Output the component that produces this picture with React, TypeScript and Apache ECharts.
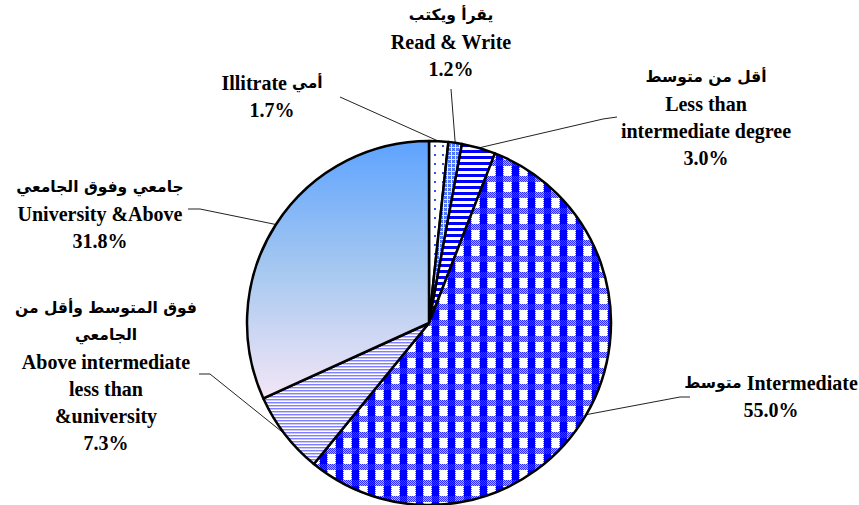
import React, { useEffect, useRef } from "react";
import * as echarts from "echarts";

// ---- Data ----
const arabicNames = [
  "أمي",
  "يقرأ ويكتب",
  "أقل من متوسط",
  "متوسط",
  "فوق المتوسط وأقل من\nالجامعي",
  "جامعي وفوق الجامعي",
];
const englishNames = [
  "Illitrate",
  "Read & Write",
  "Less than\nintermediate degree",
  "Intermediate",
  "Above intermediate\nless than\n&university",
  "University &Above",
];
const shares = [1.7, 1.2, 3.0, 55.0, 7.3, 31.8];

// label layout: [centerX, topY] of each text block, and the label-line bend/end points
const labelAnchors: number[][] = [
  [272, 69],
  [451, 1],
  [706, 63],
  [771, 369],
  [106, 294],
  [100, 173],
];
const labelLineEnds: number[][][] = [
  [[340, 97]],
  [[451, 89]],
  [[603, 119], [617, 117]],
  [[680, 397], [690, 397]],
  [[210, 374], [199, 374]],
  [[200, 209], [188, 209]],
];

function makeTile(w: number, h: number, draw: (set: (x: number, y: number, c: string) => void) => void) {
  const c = document.createElement("canvas");
  c.width = w;
  c.height = h;
  const ctx = c.getContext("2d")!;
  ctx.fillStyle = "#ffffff";
  ctx.fillRect(0, 0, w, h);
  draw((x, y, col) => {
    ctx.fillStyle = col;
    ctx.fillRect(x, y, 1, 1);
  });
  return { image: c, repeat: "repeat", imageWidth: w, imageHeight: h } as any;
}

function buildFills() {
  const dotted = makeTile(8, 9, (set) => {
    set(2, 1, "#2f4dff"); set(3, 1, "#2f4dff"); set(2, 2, "#2f4dff"); set(3, 2, "#2f4dff");
  });
  const smallCheck = makeTile(4, 4, (set) => {
    for (let y = 0; y < 4; y++)
      for (let x = 0; x < 4; x++) {
        if (x === 3 || y === 3) set(x, y, "#e6ecff");
        else set(x, y, (x + y) % 2 === 0 ? "#3f66ff" : "#6b8cff");
      }
  });
  const stripes = makeTile(1, 6, (set) => {
    for (let y = 0; y < 3; y++) set(0, y, "#0000ff");
  });
  const gingham = makeTile(16, 16, (set) => {
    for (let y = 0; y < 16; y++)
      for (let x = 0; x < 16; x++) {
        const inCol = x < 7;
        const inBand = y < 6;
        const edgeCol = x === 7 || x === 15;
        if (inBand) {
          if (inCol) set(x, y, (x + y) % 2 === 0 ? "#0000ff" : "#4040ff");
          else set(x, y, (x + y) % 2 === 0 ? "#2a2aff" : "#b0b0ff");
        } else if (inCol) set(x, y, "#0000ff");
        else if (edgeCol) set(x, y, (x + y) % 2 === 0 ? "#6060ff" : "#ffffff");
      }
  });
  const fine = makeTile(1, 3, (set) => {
    set(0, 0, "#8080ff");
    set(0, 1, "#c8c8ff");
  });
  const grad = new echarts.graphic.LinearGradient(0, 0, 0, 1, [
    { offset: 0, color: "#5ea3ff" },
    { offset: 0.5, color: "#a6c8f0" },
    { offset: 1, color: "#f4e6f6" },
  ]);
  return [dotted, smallCheck, stripes, gingham, fine, grad];
}

function labelText(i: number): string {
  const pct = `{en|${shares[i].toFixed(1)}%}`;
  const ar = arabicNames[i].split("\n").map((s) => `{ar|${s}}`).join("\n");
  const en = englishNames[i].split("\n").map((s) => `{en|${s}}`).join("\n");
  if (i === 0) return `{en|${englishNames[i]}}{en| }{ar|${arabicNames[i]}}\n${pct}`;
  if (i === 3) return `{ar|${arabicNames[i]}}{en| }{en|${englishNames[i]}}\n${pct}`;
  return `${ar}\n${en}\n${pct}`;
}

export default function App() {
  const ref = useRef<HTMLDivElement>(null);
  useEffect(() => {
    document.body.style.margin = "0";
    const chart = echarts.init(ref.current!, null, { renderer: "svg" });
    const fills = buildFills();
    chart.setOption({
      animation: false,
      backgroundColor: "#ffffff",
      series: [
        {
          type: "pie",
          center: [429, 323],
          radius: 182,
          startAngle: 90,
          clockwise: true,
          avoidLabelOverlap: false,
          emphasis: { disabled: true },
          itemStyle: { borderColor: "#000000", borderWidth: 2.5 },
          label: {
            show: true,
            position: "outside",
            formatter: (p: any) => labelText(p.dataIndex),
            rich: {
              en: {
                fontFamily: "Liberation Serif",
                fontWeight: "bold",
                fontSize: 20,
                lineHeight: 27,
                color: "#000000",
              },
              ar: {
                fontFamily: "DejaVu Sans",
                fontWeight: "bold",
                fontSize: 15.5,
                lineHeight: 27,
                color: "#000000",
              },
            },
          },
          labelLine: {
            show: true,
            length: 10,
            length2: 10,
            smooth: false,
            lineStyle: { color: "#222222", width: 1 },
          },
          labelLayout: (params: any) => {
            const i = params.dataIndex;
            const start = params.labelLinePoints ? params.labelLinePoints[0] : null;
            const pts = start ? [start, ...labelLineEnds[i]] : undefined;
            if (pts && pts.length === 2) pts.splice(1, 0, pts[1]);
            return {
              x: labelAnchors[i][0],
              y: labelAnchors[i][1],
              align: "center",
              verticalAlign: "top",
              labelLinePoints: pts,
            };
          },
          data: shares.map((v, i) => ({
            value: v,
            name: englishNames[i],
            itemStyle: { color: fills[i] },
          })),
        },
      ],
    });
    return () => chart.dispose();
  }, []);
  return <div ref={ref} style={{ width: 859, height: 505 }} />;
}
